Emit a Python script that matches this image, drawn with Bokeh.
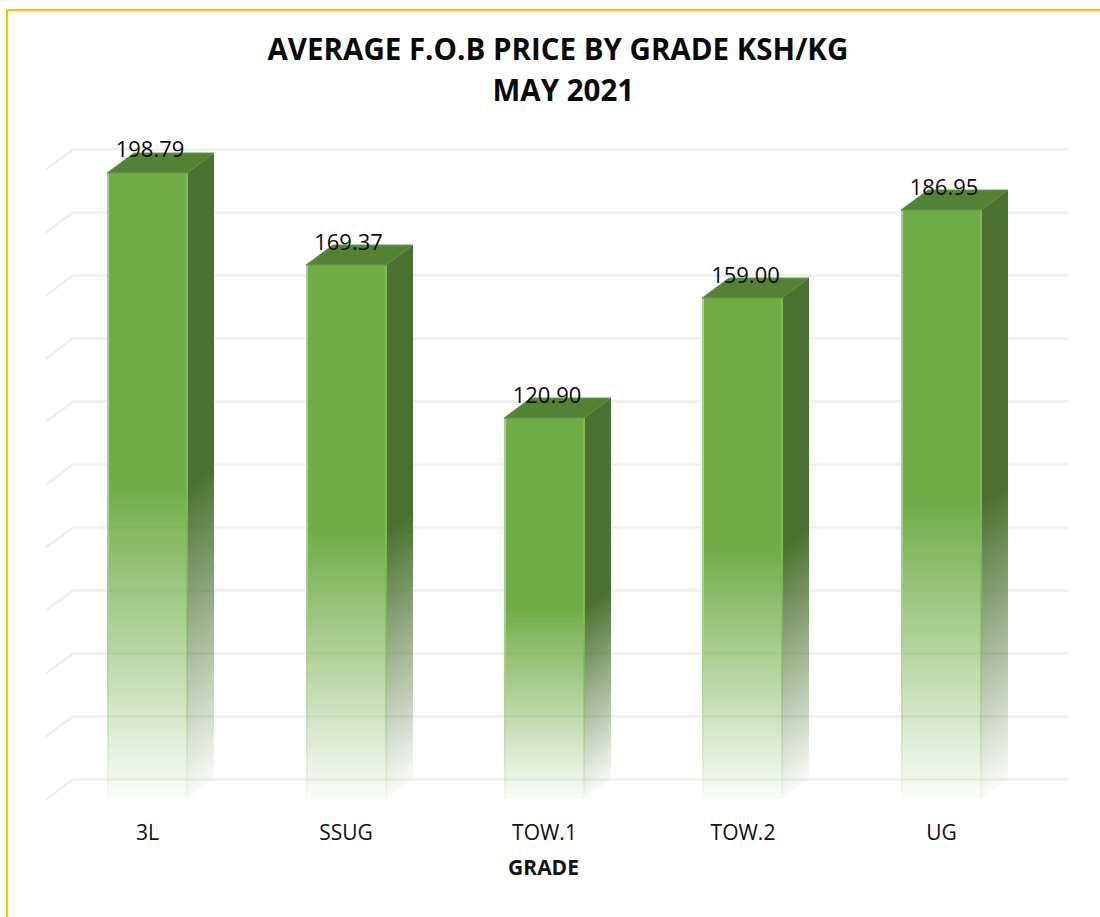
import numpy as np
from bokeh.plotting import figure
from bokeh.models import ColumnDataSource, FixedTicker, Title
from bokeh.core.properties import value
from bokeh.embed import file_html
from bokeh.resources import INLINE

categories = ["3L", "SSUG", "TOW.1", "TOW.2", "UG"]
prices = [198.79, 169.37, 120.90, 159.00, 186.95]
grid_values = [0, 20, 40, 60, 80, 100, 120, 140, 160, 180, 200]
title_line1 = "AVERAGE F.O.B PRICE BY GRADE KSH/KG"
title_line2 = "MAY 2021"
x_title = "GRADE"

# drawing geometry, in page pixels
OX, OY = 8, 11        # page position of the canvas origin
W, H = 1092, 906
BORDER = 2            # the layout counts the host's border in its size
PX_X = 198.5          # px per category
PX_Y = 3.15           # px per price unit
X0 = 147              # px of first category
Y0 = 799              # px of price 0, front plane
FR_L, FR_R, FR_T, FR_B = OX, 1078, 112, 805
BAR_PX = 80
DX_PX, DY_PX = 27, 20
STEP = 3              # strip size of the fades
HALF = 0.5            # Bokeh paints half a pixel off; undo it so fade cells abut cleanly


def to_x(px):
    return (np.asarray(px, dtype=float) - HALF - X0) / PX_X


def to_y(px):
    return (Y0 - (np.asarray(px, dtype=float) - HALF)) / PX_Y


p = figure(
    width=W, height=H, margin=(9, 0, 0, 6),
    x_range=((FR_L - X0) / PX_X, (FR_R - X0) / PX_X),
    y_range=((Y0 - FR_B) / PX_Y, (Y0 - FR_T) / PX_Y),
    output_backend="svg", toolbar_location=None,
    min_border_left=FR_L - OX, min_border_right=OX + W - FR_R + BORDER,
    min_border_top=FR_T - OY, min_border_bottom=OY + H - FR_B + BORDER,
    background_fill_color="white", border_fill_color="white",
    styles={"border-left": "2px solid #ffc000", "border-top": "2px solid #ffc000",
            "box-sizing": "content-box"},
)
p.outline_line_color = None
p.grid.visible = False
p.yaxis.visible = False

ax = p.xaxis[0]
ax.ticker = FixedTicker(ticks=list(range(len(categories))))
ax.major_label_overrides = {i: c for i, c in enumerate(categories)}
ax.axis_line_color = None
ax.major_tick_line_color = None
ax.minor_tick_line_color = None
ax.major_label_text_font = "Open Sans"
ax.major_label_text_font_size = "21px"
ax.major_label_text_color = "#111111"
ax.major_label_standoff = 6
ax.axis_label = x_title
ax.axis_label_text_font = "Open Sans"
ax.axis_label_text_font_style = "bold"
ax.axis_label_text_font_size = "21px"
ax.axis_label_text_color = "#111111"
ax.axis_label_standoff = 4

common = dict(align="left", text_font="Open Sans", text_font_style="bold",
              text_font_size="29.5px", text_color="#0a0a0a")
p.add_layout(Title(text=title_line2, offset=484, standoff=5, **common), "above")
p.add_layout(Title(text=title_line1, offset=259, standoff=-9, **common), "above")

# gridlines: short slanted part on the side wall, long part on the back wall
gx_left = float(to_x(46))
gx_back = float(to_x(46 + DX_PX))
gx_right = float(to_x(1068))
dy = DY_PX / PX_Y
p.multi_line([[gx_left, gx_back, gx_right] for _ in grid_values],
             [[v, v + dy, v + dy] for v in grid_values],
             line_color="#efefef", line_width=2.5)

SIDE = "#4b7130"
FRONT = "#70ad47"
TOP = "#548235"
FADE_END = 0.03

for i, v in enumerate(prices):
    xl_px = int(round(X0 + i * PX_X - BAR_PX / 2))
    xr_px = xl_px + BAR_PX
    top_px = int(round(Y0 - v * PX_Y))
    mid_px = int(round((top_px + Y0) / 2))
    fade_h = Y0 - mid_px

    def fade(y_px):
        return np.clip(1 - (np.asarray(y_px, float) - mid_px) / fade_h * (1 - FADE_END), 0, 1)

    # side wall: small cells so that the fade runs along the slant of the box
    L, R, T, B, A = [], [], [], [], []
    for cx in range(0, DX_PX, STEP):
        frac = (cx + STEP / 2) / DX_PX
        shift = frac * DY_PX
        col_top = int(np.floor(top_px - (cx + STEP) / DX_PX * DY_PX))
        col_mid = int(round(mid_px - shift))
        col_bot = int(round(Y0 - shift))
        rows = list(range(col_mid, col_bot, STEP)) + [col_bot]
        L.append(xr_px + cx); R.append(xr_px + cx + STEP)
        T.append(col_top); B.append(col_mid); A.append(1.0)
        for a, b in zip(rows[:-1], rows[1:]):
            L.append(xr_px + cx); R.append(xr_px + cx + STEP)
            T.append(a); B.append(b)
            A.append(float(fade((a + b) / 2 + shift)))
    p.quad(left=to_x(L), right=to_x(R), top=to_y(T), bottom=to_y(B),
           fill_color=SIDE, fill_alpha=A, line_color=None)

    # front face: solid upper half, strip-wise fade to the foot
    rows = list(range(mid_px, Y0, STEP)) + [Y0]
    tops = [top_px] + rows[:-1]
    bots = [mid_px] + rows[1:]
    alphas = [1.0] + [float(fade((a + b) / 2)) for a, b in zip(rows[:-1], rows[1:])]
    n = len(tops)
    p.quad(left=to_x([xl_px] * n), right=to_x([xr_px] * n),
           top=to_y(tops), bottom=to_y(bots),
           fill_color=FRONT, fill_alpha=alphas, line_color=None)

    # pale edges of the front face
    for e0, e1, col in ((xl_px, xl_px + 2, "#a9d18e"), (xr_px - 1, xr_px + 1, "#7fb95a")):
        p.quad(left=to_x([e0] * n), right=to_x([e1] * n),
               top=to_y(tops), bottom=to_y(bots),
               fill_color=col, fill_alpha=alphas, line_color=None)

    # top face
    p.patch(to_x([xl_px, xl_px + DX_PX, xr_px + DX_PX, xr_px]),
            to_y([top_px, top_px - DY_PX, top_px - DY_PX, top_px]),
            fill_color=TOP, line_color="#6a9450", line_width=1)

src = ColumnDataSource(dict(x=list(range(len(prices))), y=prices,
                            t=[f"{v:.2f}" for v in prices]))
p.text("x", "y", text="t", source=src, text_font=value("Open Sans"),
       text_font_size=value("22px"), text_color="#0a0a0a",
       text_align="center", text_baseline="middle", x_offset=2.5, y_offset=-24)

open("out.html", "w").write(file_html(p, INLINE))
